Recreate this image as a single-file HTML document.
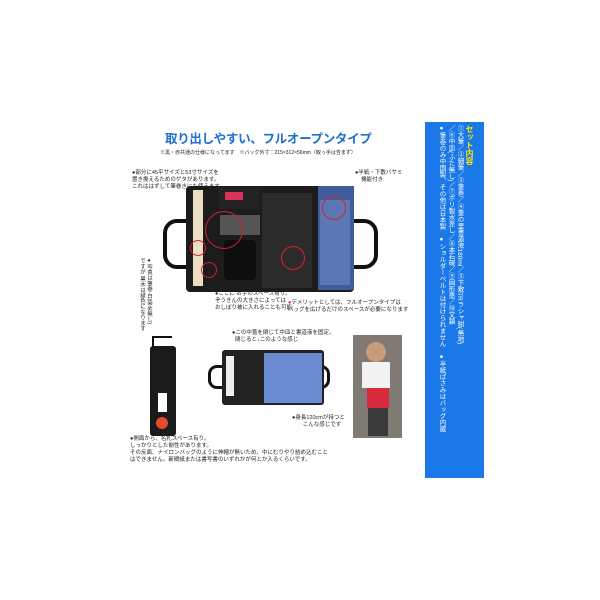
<!DOCTYPE html>
<html><head><meta charset="utf-8"><style>
body{margin:0;width:600px;height:600px;background:#fff;position:relative;overflow:hidden;font-family:"Liberation Sans","Noto Sans CJK JP",sans-serif}
.a{position:absolute}
.t{position:absolute;font-size:5.5px;line-height:7px;color:#222;white-space:nowrap}
.v{writing-mode:vertical-rl;position:absolute;font-size:6.5px;line-height:8px;color:#fff;white-space:nowrap}
.c{position:absolute;border:1.5px solid #d8202a;border-radius:50%}
</style></head><body>
<div class="a" style="left:165px;top:128px;font-size:12.5px;font-weight:bold;color:#1f6fd0;letter-spacing:-0.3px;white-space:nowrap">取り出しやすい、フルオープンタイプ</div>
<div class="t" style="left:160px;top:150px;font-size:5px">※黒・赤共通の仕様になってます　※バッグ外寸：215×312×56mm（取っ手は含まず）</div>
<div class="t" style="left:132px;top:170px">●部分に45平サイズと53寸サイズを<br>置き換えるためのゲタがあります。<br>これははずして筆巻きにも使えます</div>
<div class="t" style="left:355px;top:170px">●半紙・下敷バサミ<br>&nbsp;&nbsp;&nbsp;&nbsp;機能付き</div>
<!-- bag -->
<div class="a" style="left:163px;top:219px;width:215px;height:50px;border:4px solid #111;border-radius:14px;box-sizing:border-box"></div>
<div class="a" style="left:186px;top:186px;width:168px;height:106px;background:#1c1c1c;border-radius:4px"></div>
<div class="a" style="left:193px;top:190px;width:10px;height:96px;background:#eadfc2"></div>
<div class="a" style="left:218px;top:187px;width:42px;height:22px;background:#222"></div>
<div class="a" style="left:225px;top:192px;width:18px;height:8px;background:#d7325a"></div>
<div class="a" style="left:220px;top:215px;width:40px;height:20px;background:#555"></div>
<div class="a" style="left:224px;top:240px;width:32px;height:40px;background:#0e0e0e;border-radius:4px"></div>
<div class="a" style="left:262px;top:193px;width:50px;height:95px;background:#2b2b2b"></div>
<div class="a" style="left:318px;top:186px;width:36px;height:104px;background:#3f5d9c"></div>
<div class="a" style="left:320px;top:200px;width:30px;height:85px;background:#5b78b4"></div>
<div class="c" style="left:205px;top:211px;width:36px;height:36px"></div>
<div class="c" style="left:322px;top:196px;width:22px;height:22px"></div>
<div class="c" style="left:190px;top:240px;width:14px;height:14px"></div>
<div class="c" style="left:201px;top:262px;width:14px;height:14px"></div>
<div class="c" style="left:281px;top:246px;width:22px;height:22px"></div>
<div class="t" style="left:215px;top:291px">●ここに お手のスペース有り。<br>ぞうきんの大きさによっては<br>おしぼり被に入れることも可能</div>
<div class="t" style="left:288px;top:300px"><span style="color:#d8202a">●</span>デメリットとしては、フルオープンタイプは<br>バッグを広げるだけのスペースが必要になります</div>
<div class="t" style="left:232px;top:330px">●この中蓋を閉じて中皿と書道液を固定。<br>&nbsp;&nbsp;閉じると↓このような感じ</div>
<div class="t" style="left:138px;top:258px;writing-mode:vertical-rl;line-height:7px">●写真は筆巻 白(染め無し)<br>ですが 黒木は緑色になります</div>
<!-- vertical bag -->
<div class="a" style="left:150px;top:346px;width:26px;height:90px;background:#1a1a1a;border-radius:3px"></div>
<div class="a" style="left:158px;top:393px;width:9px;height:19px;background:#fff"></div>
<div class="a" style="left:156px;top:417px;width:12px;height:12px;background:#e44a2c;border-radius:50%"></div>
<div class="a" style="left:152px;top:336px;width:18px;height:10px;border-top:2px solid #111;border-left:2px solid #111"></div>
<!-- small bag -->
<div class="a" style="left:208px;top:365px;width:122px;height:24px;border:3px solid #111;border-radius:9px;box-sizing:border-box"></div>
<div class="a" style="left:222px;top:350px;width:102px;height:55px;background:#222;border-radius:3px"></div>
<div class="a" style="left:264px;top:353px;width:58px;height:50px;background:#6b8cd0"></div>
<div class="a" style="left:226px;top:356px;width:8px;height:40px;background:#eee"></div>
<div class="t" style="left:292px;top:415px">●身長120cmが持つと<br>&nbsp;&nbsp;&nbsp;&nbsp;&nbsp;&nbsp;&nbsp;こんな感じです</div>
<!-- girl photo -->
<div class="a" style="left:353px;top:335px;width:49px;height:103px;background:#7f7a74"></div>
<div class="a" style="left:366px;top:342px;width:20px;height:20px;background:#c79a78;border-radius:50%"></div>
<div class="a" style="left:362px;top:362px;width:28px;height:26px;background:#f2f2f2"></div>
<div class="a" style="left:367px;top:388px;width:22px;height:20px;background:#d72a3a"></div>
<div class="a" style="left:368px;top:408px;width:20px;height:28px;background:#3a3a3a"></div>
<div class="t" style="left:130px;top:436px">●側面から、名札スペース有り。<br>しっかりとした剛性があります。<br>その反面、ナイロンバッグのように伸縮が無いため、中にむりやり詰め込むこと<br>はできません。新聞紙または書写書のいずれかが何とか入るくらいです。</div>
<!-- blue panel -->
<div class="a" style="left:425px;top:122px;width:59px;height:356px;background:#1a78e8"></div>
<div class="v" style="left:465px;top:125px;font-weight:bold;color:#ffe400;font-size:8px;line-height:9px">セット内容</div>
<div class="v" style="left:455px;top:125px">①大筆／②細筆／③筆巻／④筆の里書道液180ml／⑤下敷TRラシャ紺(無地)</div>
<div class="v" style="left:446px;top:125px">／⑥中皿(ふた無し)／⑦ポリ製水差し／⑧本石硯／⑨固形墨／⑩文鎮</div>
<div class="v" style="left:437px;top:125px">●筆巻のみ中国製、その他は日本製　●ショルダーベルトは付けられません　●半紙ばさみはバッグ内蔵</div>
</body></html>
